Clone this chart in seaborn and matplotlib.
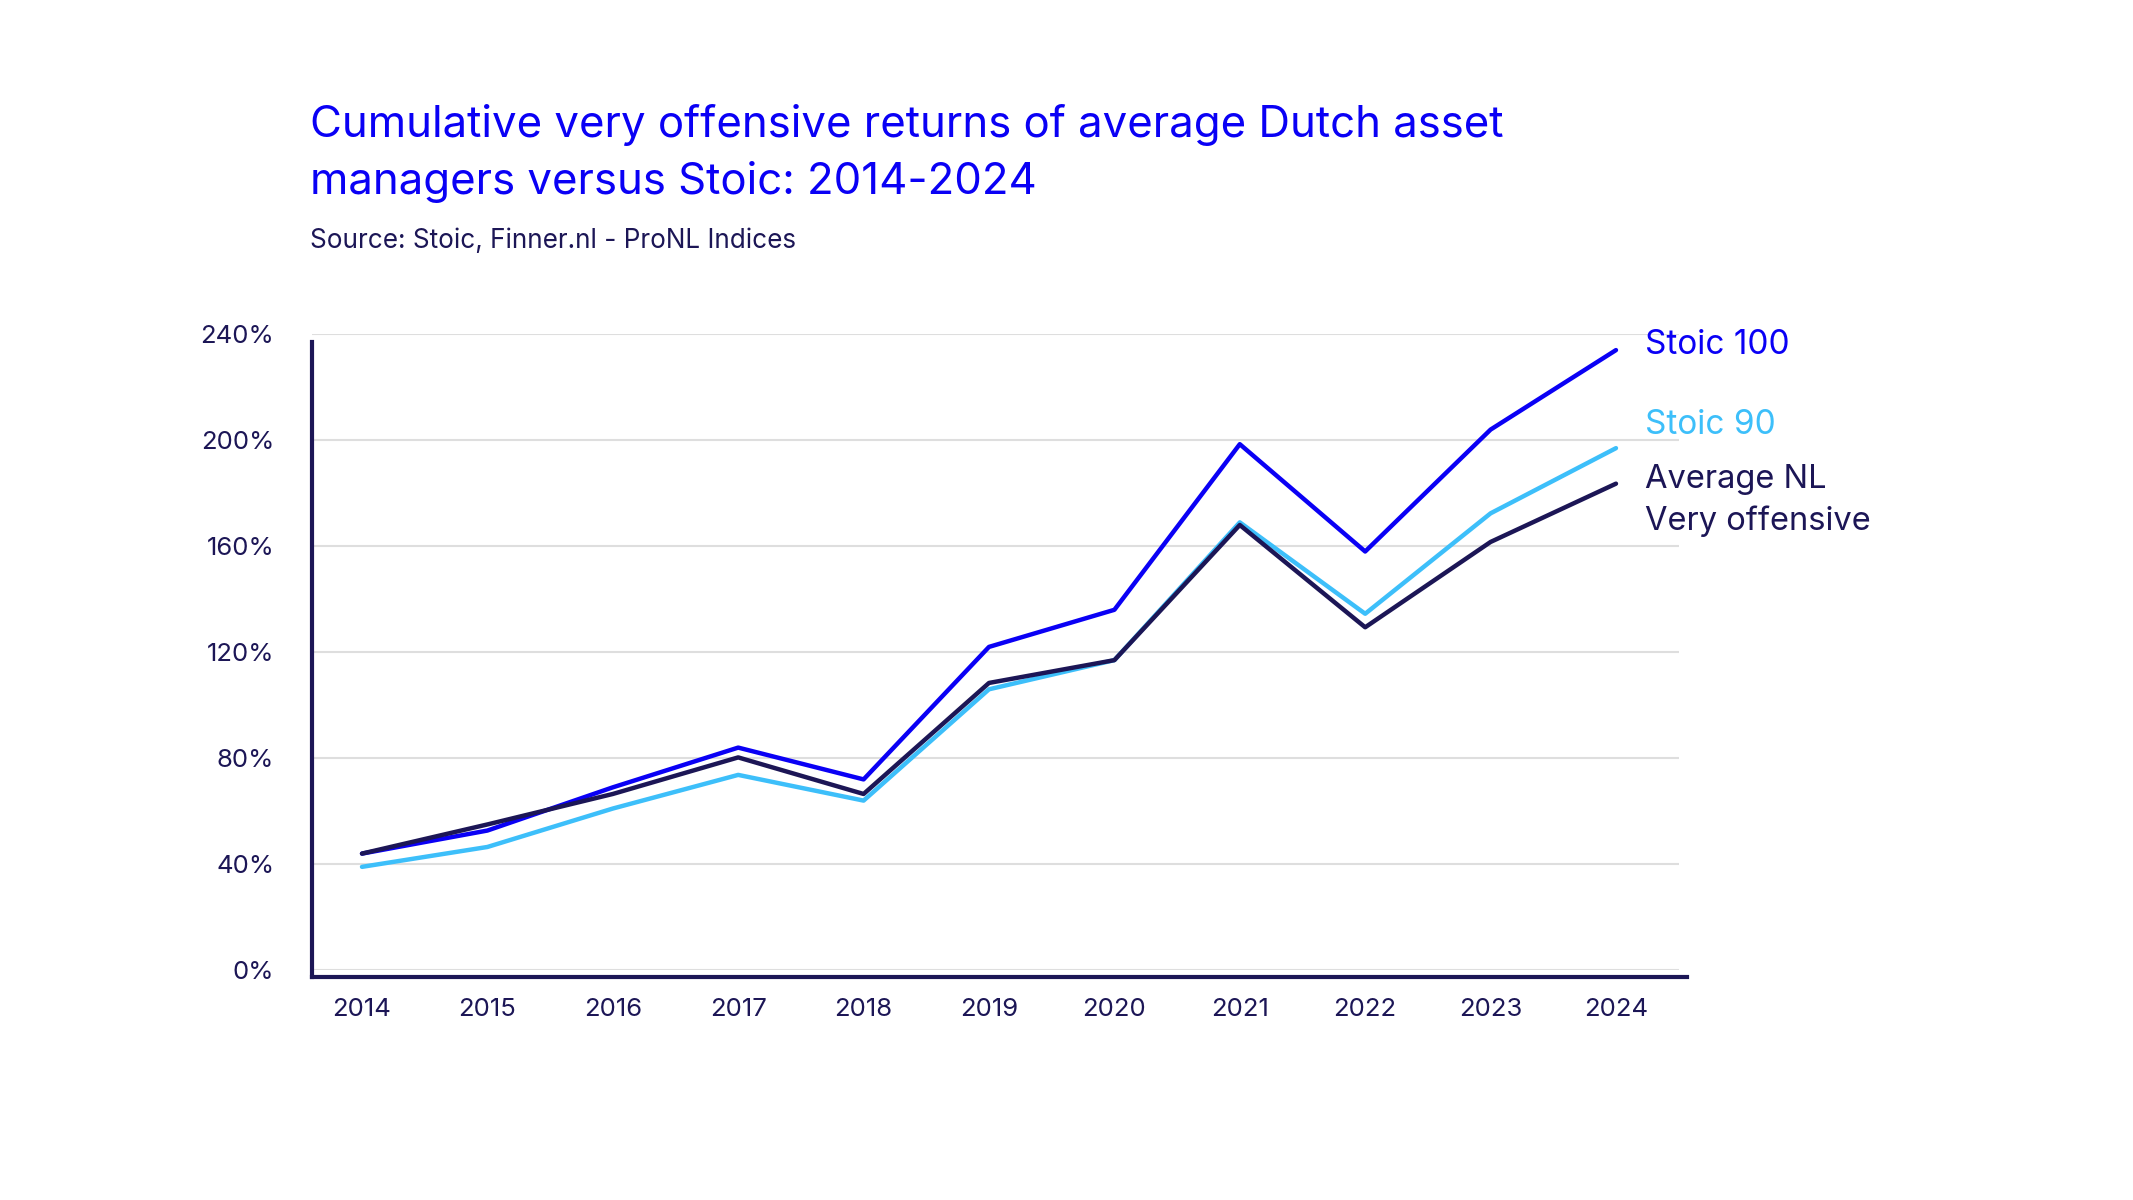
import matplotlib
matplotlib.use("Agg")
import matplotlib.pyplot as plt
import seaborn as sns
import pandas as pd

years = [2014, 2015, 2016, 2017, 2018, 2019, 2020, 2021, 2022, 2023, 2024]
stoic_100 = [44, 52.7, 69, 84, 72, 122, 136, 198.5, 158, 204, 234]
stoic_90 = [39, 46.5, 61, 73.7, 64, 106, 117, 169, 134.5, 172.4, 197]
average_nl = [44, 55, 66.5, 80.3, 66.5, 108.4, 117, 168, 129.4, 161.6, 183.6]

series_names = ['Stoic 100', 'Stoic 90', 'Average NL\nVery offensive']
yticks = [0, 40, 80, 120, 160, 200, 240]

blue = '#0A00F5'
light_blue = '#3DBFFA'
navy = '#1C1656'
colors = {'Stoic 100': blue, 'Stoic 90': light_blue, 'Average NL\nVery offensive': navy}

df = pd.DataFrame({
    'year': years * 3,
    'value': stoic_100 + stoic_90 + average_nl,
    'series': [series_names[0]] * 11 + [series_names[1]] * 11 + [series_names[2]] * 11,
})

sns.set_theme(style='white')
plt.rcParams['font.family'] = ['Inter', 'DejaVu Sans']

fig = plt.figure(figsize=(21.33, 12), dpi=100)
ax = fig.add_axes([0.1462, 0.1915, 0.6408, 0.5300])

sns.lineplot(data=df, x='year', y='value', hue='series', palette=colors,
             linewidth=3.2, ax=ax, legend=False, sort=False)

ax.set_xlim(2013.6, 2024.5)
ax.set_ylim(0, 240)
ax.set_yticks(yticks)
ax.set_yticklabels([f'{t}%' for t in yticks])
ax.set_xticks(years)
ax.set_xticklabels([str(y) for y in years])
ax.set_xlabel('')
ax.set_ylabel('')

ax.yaxis.grid(True, color='#dedede', linewidth=1.5)
ax.set_axisbelow(True)

for s in ['top', 'right']:
    ax.spines[s].set_visible(False)
ax.spines['left'].set_color(navy)
ax.spines['left'].set_linewidth(3)
ax.spines['left'].set_bounds(-2.5, 237)
ax.spines['bottom'].set_color(navy)
ax.spines['bottom'].set_linewidth(3)
ax.spines['bottom'].set_position(('data', -2.5))
ax.spines['bottom'].set_bounds(2013.6, 2024.57)

ax.tick_params(axis='y', length=7, width=1.5, color='#dedede', pad=20,
               labelsize=18.5, labelcolor=navy)
ax.tick_params(axis='x', length=0, pad=15, labelsize=18.5, labelcolor=navy)

# end labels
ax.text(2024.23, 235.8, 'Stoic 100', color=blue, fontsize=24, va='center', clip_on=False)
ax.text(2024.23, 205.6, 'Stoic 90', color=light_blue, fontsize=24, va='center', clip_on=False)
ax.text(2024.23, 177.2, 'Average NL\nVery offensive', color=navy, fontsize=23.5,
        va='center', linespacing=1.45, clip_on=False)

fig.text(0.1455, 0.886, 'Cumulative very offensive returns of average Dutch asset',
         color=blue, fontsize=31.5, va='baseline')
fig.text(0.1455, 0.8385, 'managers versus Stoic: 2014-2024',
         color=blue, fontsize=31.5, va='baseline')
fig.text(0.1455, 0.7935, 'Source: Stoic, Finner.nl - ProNL Indices',
         color=navy, fontsize=18.8, va='baseline')

fig.savefig('out.png', dpi=100, facecolor='white')
